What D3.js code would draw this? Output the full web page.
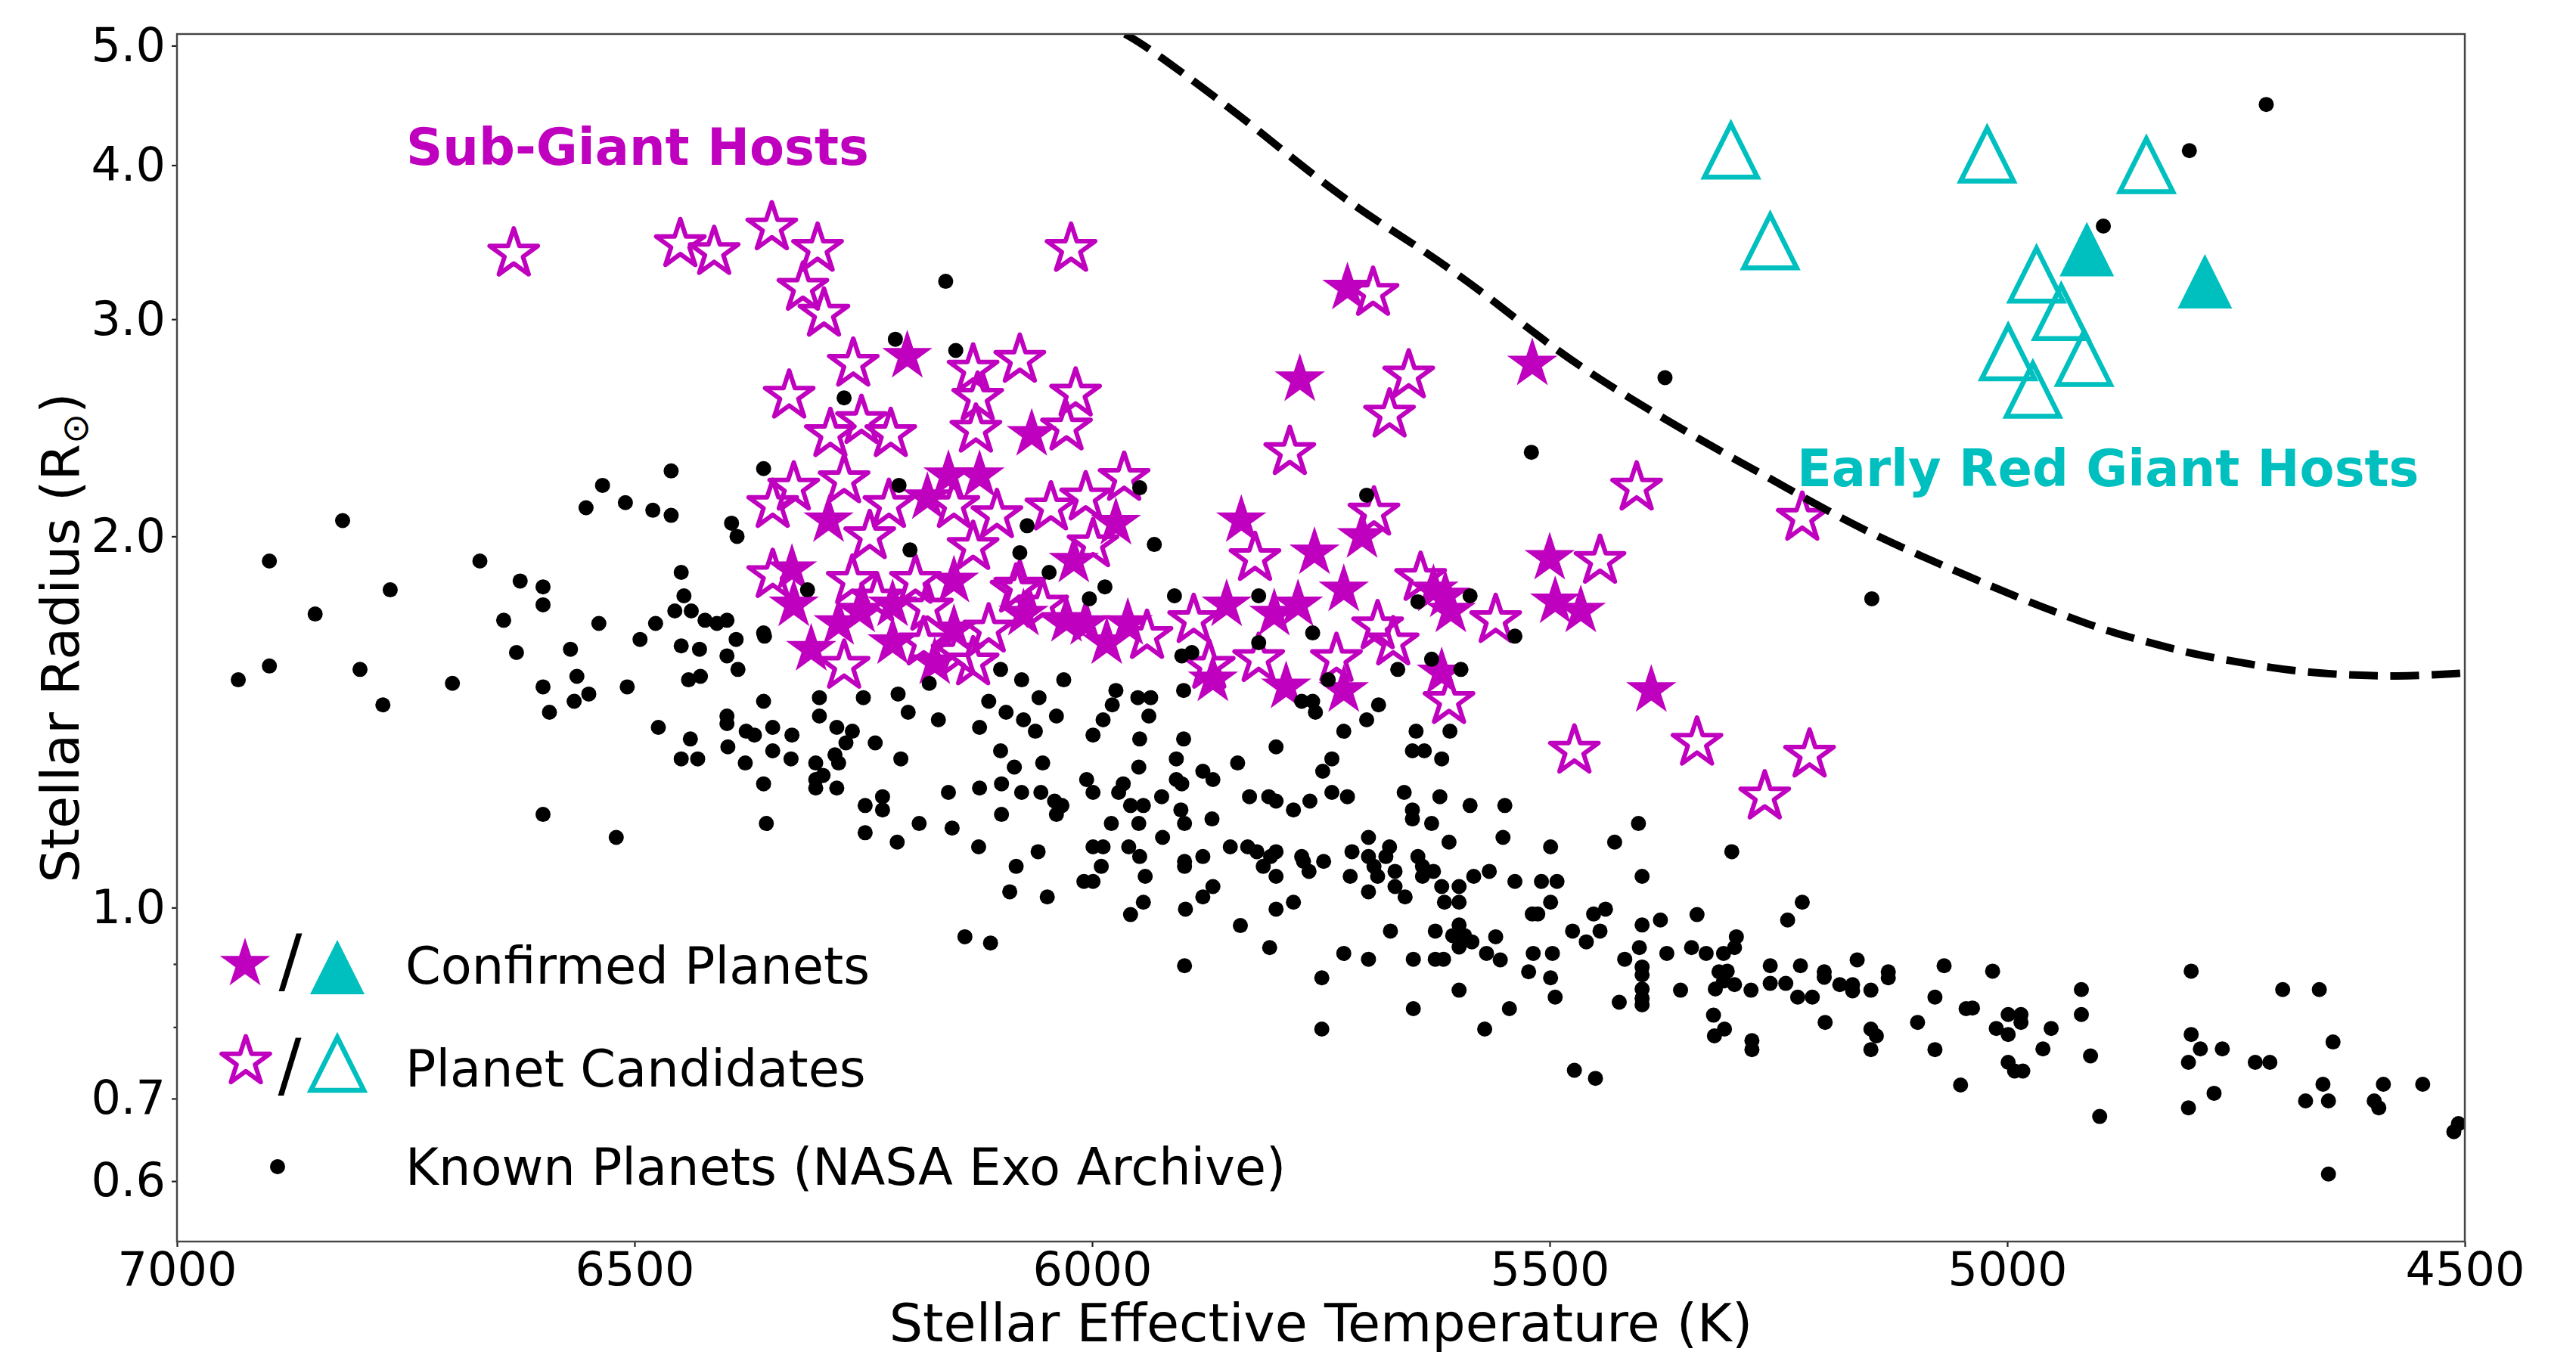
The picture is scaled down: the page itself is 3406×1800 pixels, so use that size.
<!DOCTYPE html>
<html><head><meta charset="utf-8">
<script src="https://cdn.jsdelivr.net/npm/d3@7"></script>
<style>body{margin:0;background:#fff;} svg{display:block;} text{font-family:"DejaVu Sans";}</style>
</head><body>
<svg id="chart" width="3406" height="1800"></svg>
<script>
// ---------------- DATA (Teff [K], stellar radius [R_sun]) ----------------
const xTicks = [7000, 6500, 6000, 5500, 5000, 4500];
const yTicks = [0.6, 0.7, 1.0, 2.0, 3.0, 4.0, 5.0];
const yMinorTicks = [0.8, 0.9];

const legendLabels = ["Confirmed Planets", "Planet Candidates", "Known Planets (NASA Exo Archive)"];
const regionLabels = ["Sub-Giant Hosts", "Early Red Giant Hosts"];

// Known planets (NASA Exoplanet Archive)
const knownPlanets = [
[6460,2.26],[6535,2.20],[6553,2.11],[6510,2.13],[6480,2.10],[6460,2.08],[6394,2.05],[6388,2.00],[6819,2.06],[6899,1.91],
[6669,1.91],[6767,1.81],[6849,1.73],[6625,1.84],[6600,1.82],[6600,1.76],[6643,1.71],[6539,1.70],[6449,1.87],[6446,1.79],
[6456,1.74],[6438,1.74],[6423,1.71],[6410,1.70],[6399,1.71],[6477,1.70],[6494,1.65],[6358,1.66],[6389,1.65],[6570,1.62],
[6629,1.61],[6449,1.63],[6429,1.62],[6399,1.60],[6387,1.56],[6899,1.57],[6933,1.53],[6800,1.56],[6699,1.52],[6775,1.46],
[6563,1.54],[6600,1.51],[6550,1.49],[6566,1.47],[6593,1.44],[6508,1.51],[6441,1.53],[6428,1.54],[6399,1.43],[6399,1.41],
[6378,1.39],[6369,1.38],[6474,1.40],[6439,1.37],[6449,1.32],[6431,1.32],[6398,1.35],[6379,1.31],[6600,1.19],[6520,1.14],
[6160,3.22],[6215,2.89],[6149,2.83],[6271,2.59],[6359,2.27],[6211,2.20],[5948,2.19],[6071,2.04],[5932,1.97],[6199,1.95],
[6079,1.94],[6047,1.87],[5986,1.82],[6003,1.78],[5910,1.79],[5818,1.79],[5759,1.67],[5818,1.64],[6311,1.81],[6359,1.67],
[5759,1.47],[5742,1.53],[6359,1.47],[6298,1.48],[6250,1.48],[6212,1.49],[6178,1.52],[6201,1.44],[6298,1.43],[6349,1.40],
[6328,1.38],[6279,1.40],[6262,1.39],[6349,1.34],[6281,1.33],[6269,1.36],[6237,1.36],[6168,1.42],[6100,1.56],[6077,1.53],
[6113,1.47],[6094,1.44],[6075,1.42],[6058,1.48],[6039,1.43],[6062,1.39],[6031,1.53],[6100,1.34],[6123,1.40],[5999,1.38],
[5988,1.42],[5974,1.50],[5978,1.46],[5950,1.48],[5936,1.48],[5938,1.43],[5948,1.37],[5900,1.37],[5902,1.60],[5891,1.61],
[5900,1.50],[5799,1.35],[5771,1.47],[5756,1.44],[5725,1.39],
[6329,1.32],[6302,1.31],[6277,1.31],[6209,1.32],[6359,1.26],[6302,1.27],[6294,1.28],[6302,1.25],[6279,1.25],[6356,1.17],
[6248,1.21],[6229,1.23],[6229,1.20],[6248,1.15],[6213,1.13],[6189,1.17],[6157,1.24],[6153,1.16],[6123,1.25],[6099,1.26],
[6099,1.19],[6085,1.30],[6054,1.31],[6077,1.24],[6056,1.24],[6041,1.22],[6033,1.21],[6039,1.19],[6124,1.12],[6059,1.11],
[6083,1.08],[6090,1.03],[6049,1.02],[6139,0.947],[6111,0.936],[6006,1.27],[5999,1.24],[5971,1.24],[5966,1.26],[5949,1.30],
[5958,1.21],[5944,1.21],[5979,1.17],[5949,1.17],[5999,1.12],[5988,1.12],[5990,1.08],[6009,1.05],[5999,1.05],[5960,1.12],
[5948,1.10],[5942,1.06],[5923,1.14],[5924,1.23],[5908,1.32],[5908,1.27],[5902,1.26],[5903,1.20],[5899,1.17],[5869,1.18],
[5879,1.29],[5868,1.27],[5841,1.31],[5899,1.09],[5899,1.08],[5879,1.10],[5868,1.04],[5879,1.02],[5898,0.997],[5944,1.01],
[5958,0.987],[5849,1.12],[5830,1.12],[5820,1.11],[5799,1.11],[5805,1.10],[5813,1.08],[5799,1.06],[5771,1.10],[5769,1.09],
[5763,1.07],[5747,1.09],[5716,1.11],[5718,1.06],[5828,1.23],[5807,1.23],[5799,1.22],[5780,1.20],[5762,1.22],[5738,1.24],
[5721,1.23],[5748,1.29],[5738,1.32],[5799,0.997],[5780,1.01],[5838,0.967],[5806,0.928],[5899,0.897],[5725,0.918],[5749,0.877],
[5749,0.797],
[5374,2.69],[5520,2.34],[5148,1.78],[5700,2.16],[5644,1.77],[5587,1.79],[5538,1.66],[5629,1.59],[5597,1.56],[5666,1.56],
[5687,1.46],[5700,1.42],[5646,1.39],[5609,1.39],[5650,1.34],[5637,1.34],
[5618,1.32],[5659,1.24],[5620,1.23],[5587,1.21],[5549,1.21],[5650,1.20],[5650,1.18],[5629,1.17],[5698,1.14],[5610,1.13],
[5551,1.14],[5499,1.12],[5403,1.17],[5429,1.13],[5301,1.11],[5399,1.06],[5675,1.12],[5698,1.10],[5679,1.10],[5692,1.08],
[5688,1.06],[5669,1.07],[5644,1.10],[5639,1.08],[5639,1.06],[5627,1.07],[5698,1.03],[5669,1.04],[5658,1.02],[5618,1.04],
[5615,1.01],[5599,1.04],[5599,1.01],[5583,1.06],[5566,1.07],[5538,1.05],[5509,1.05],[5492,1.05],[5499,1.01],[5519,0.988],
[5513,0.988],[5452,0.988],[5439,0.997],[5475,0.957],[5460,0.938],[5445,0.957],[5674,0.957],[5625,0.957],[5599,0.968],[5606,0.949],
[5593,0.949],[5585,0.938],[5599,0.929],[5559,0.947],[5698,0.908],[5649,0.908],[5625,0.908],[5616,0.908],[5569,0.918],[5554,0.907],
[5518,0.918],[5497,0.918],[5523,0.887],[5499,0.877],[5494,0.846],[5599,0.857],[5649,0.828],[5544,0.828],[5571,0.797],[5473,0.738],
[5450,0.727],[5399,0.968],[5379,0.977],[5402,0.928],[5418,0.908],[5399,0.895],[5399,0.882],[5372,0.918],[5399,0.859],[5399,0.844],
[5399,0.834],[5424,0.838],[5357,0.857],[5345,0.928],[5339,0.987],[5329,0.918],[5310,0.918],[5296,0.947],[5298,0.928],[5315,0.887],
[5306,0.888],[5319,0.859],[5298,0.866],[5310,0.872],[5280,0.857],[5321,0.818],[5309,0.797],[5320,0.787],[5279,0.780],[5279,0.767],
[5259,0.897],[5259,0.868],[5242,0.868],[5226,0.897],[5229,0.846],[5213,0.846],[5240,0.977],[5224,1.01],[5200,0.887],[5200,0.878],
[5183,0.866],[5169,0.866],[5169,0.856],[5164,0.907],[5149,0.857],[5130,0.887],[5130,0.877],[5069,0.897],[5079,0.846],[5199,0.807],
[5149,0.797],[5143,0.787],[5149,0.767],[5098,0.807],[5079,0.767],[5051,0.718],[5045,0.828],
[5016,0.888],[5038,0.829],[4999,0.819],[4985,0.819],[4985,0.807],[5012,0.798],[4999,0.789],[4952,0.798],[4961,0.768],[4919,0.858],
[4919,0.819],[4909,0.758],[4999,0.749],[4992,0.737],[4983,0.737],[4899,0.677],[4799,0.888],[4799,0.789],[4789,0.768],[4765,0.768],
[4802,0.749],[4774,0.707],[4802,0.688],[4729,0.749],[4713,0.749],[4699,0.858],[4659,0.858],[4644,0.778],[4655,0.719],[4649,0.697],
[4674,0.697],[4649,0.608],[4599,0.697],[4594,0.688],[4589,0.719],[4546,0.719],[4512,0.658],[4507,0.668],
[4801,4.11],[4717,4.48],[4895,3.57]
];

// Sub-giant hosts: confirmed planets (filled stars)
const confirmedSubGiants = [
[6202,2.80],[6066,2.42],[5721,3.18],[5773,2.68],[6288,2.06],[6157,2.24],[6123,2.24],[6180,2.15],[5974,2.05],[5837,2.06],
[5757,1.94],[6328,1.88],[6151,1.84],[6020,1.91],[5853,1.76],[5801,1.73],[5775,1.76],[5725,1.81],[6326,1.76],[6307,1.62],
[6277,1.70],[6218,1.76],[6218,1.64],[6151,1.68],[6075,1.73],[6028,1.71],[6007,1.70],[5984,1.64],[5961,1.70],[5868,1.53],
[5788,1.51],[5725,1.50],[6254,1.74],[6172,1.58],[5705,2.00],[5519,2.76],[5500,1.92],[5494,1.77],[5466,1.74],[5614,1.79],
[5608,1.74],[5627,1.81],[5618,1.55],[5389,1.50]
];

// Sub-giant hosts: planet candidates (open stars)
const candidateSubGiants = [
[6632,3.39],[6450,3.45],[6413,3.40],[6350,3.56],[6300,3.42],[6316,3.18],[6293,3.03],[6023,3.42],[6261,2.76],[6331,2.60],
[6252,2.48],[6286,2.42],[6220,2.42],[6130,2.73],[6079,2.78],[6125,2.59],[6127,2.44],[6018,2.61],[6028,2.45],[5784,2.34],
[5693,3.15],[6326,2.19],[6349,2.12],[6271,2.22],[6222,2.12],[6151,2.12],[6104,2.08],[6045,2.11],[6007,2.15],[5965,2.23],
[5822,1.92],[6349,1.86],[6262,1.84],[6193,1.84],[5999,1.97],[6079,1.82],[5889,1.71],[6271,1.57],[6235,1.78],[6184,1.64],
[6146,1.61],[6113,1.68],[6180,1.75],[6083,1.81],[6054,1.76],[5940,1.66],[5872,1.57],[5818,1.59],[5733,1.59],[6243,2.00],
[6130,1.96],[6130,1.58],[5654,2.70],[5675,2.51],[5405,2.19],[5224,2.07],[5692,2.09],[5445,1.91],[5641,1.85],[5559,1.71],
[5671,1.64],[5688,1.69],[5610,1.47],[5473,1.34],[5339,1.36],[5216,1.33],[5265,1.23]
];

// Early red giant hosts
const confirmedRedGiants = [[4913,3.42],[4784,3.22]];
const candidateRedGiants = [[5302,4.11],[5259,3.47],[5022,4.08],[4848,4.00],[4968,3.26],[4941,3.04],[4999,2.82],[4916,2.79],[4972,2.63]];

// Sub-giant / red-giant dividing curve (dashed)
const boundaryCurve = [
[5964,5.11],[5936,4.97],[5828,4.33],[5792,4.11],[5711,3.69],[5658,3.49],[5578,3.18],[5494,2.83],[5410,2.58],[5325,2.37],
[5241,2.19],[5157,2.02],[5053,1.87],[4985,1.78],[4937,1.725],[4892,1.677],[4848,1.643],[4804,1.61],[4760,1.587],[4712,1.565],
[4667,1.55],[4619,1.543],[4575,1.54],[4527,1.545],[4505,1.549]
];

// ---------------- DRAWING ----------------
const MAG = "#bf00bf", CYAN = "#00bfbf";
const svg = d3.select("#chart");
const L = 234, R = 3259, T = 45, B = 1642;
const x = d3.scaleLinear().domain([7000, 4500]).range([L, R]);
const y = d3.scaleLog().domain([0.536, 5.11]).range([B, T]);

svg.append("rect").attr("width", 3406).attr("height", 1800).attr("fill", "#fff");
svg.append("clipPath").attr("id", "plotclip").append("rect")
  .attr("x", L).attr("y", T).attr("width", R - L).attr("height", B - T);

function starPath(ro) {
  const ri = ro * 0.381966, pts = [];
  for (let k = 0; k < 10; k++) {
    const a = -Math.PI / 2 + k * Math.PI / 5, r = k % 2 ? ri : ro;
    pts.push([r * Math.cos(a), r * Math.sin(a)]);
  }
  return "M" + pts.map(p => p[0].toFixed(2) + "," + p[1].toFixed(2)).join("L") + "Z";
}
function triPath(h) { return `M0,${-h}L${h},${h}L${-h},${h}Z`; }

const g = svg.append("g").attr("clip-path", "url(#plotclip)");

g.append("g").selectAll("path").data(confirmedSubGiants).join("path")
  .attr("d", starPath(35)).attr("fill", MAG)
  .attr("transform", d => `translate(${x(d[0])},${y(d[1])})`);
g.append("g").selectAll("path").data(candidateSubGiants).join("path")
  .attr("d", starPath(33.5)).attr("fill", "none").attr("stroke", MAG).attr("stroke-width", 6)
  .attr("stroke-linejoin", "round")
  .attr("transform", d => `translate(${x(d[0])},${y(d[1])})`);
g.append("g").selectAll("path").data(confirmedRedGiants).join("path")
  .attr("d", triPath(36)).attr("fill", CYAN)
  .attr("transform", d => `translate(${x(d[0])},${y(d[1])})`);
g.append("g").selectAll("path").data(candidateRedGiants).join("path")
  .attr("d", triPath(35)).attr("fill", "none").attr("stroke", CYAN).attr("stroke-width", 6.5)
  .attr("stroke-linejoin", "miter")
  .attr("transform", d => `translate(${x(d[0])},${y(d[1])})`);

g.append("path").datum(boundaryCurve)
  .attr("d", d3.line().x(d => x(d[0])).y(d => y(d[1])).curve(d3.curveBasis))
  .attr("fill", "none").attr("stroke", "#000").attr("stroke-width", 10)
  .attr("stroke-dasharray", "38,16.5");

g.append("g").selectAll("circle").data(knownPlanets).join("circle")
  .attr("cx", d => x(d[0])).attr("cy", d => y(d[1])).attr("r", 10).attr("fill", "#000");

// axes
const xAxis = svg.append("g").attr("transform", `translate(0,${B})`)
  .call(d3.axisBottom(x).tickValues(xTicks).tickFormat(d3.format("d")).tickSize(7).tickPadding(7));
const yAxis = svg.append("g").attr("transform", `translate(${L},0)`)
  .call(d3.axisLeft(y).tickValues(yTicks).tickFormat(d3.format(".1f")).tickSize(7).tickPadding(8));
const yMinor = svg.append("g").attr("transform", `translate(${L},0)`)
  .call(d3.axisLeft(y).tickValues(yMinorTicks).tickFormat("").tickSize(4.5));
[xAxis, yAxis, yMinor].forEach(a => {
  a.select(".domain").remove();
  a.selectAll(".tick line").attr("stroke", "#222").attr("stroke-width", 2.2);
  a.selectAll(".tick text").attr("font-family", "DejaVu Sans").attr("font-size", 62).attr("fill", "#000");
});
svg.append("rect").attr("x", L).attr("y", T).attr("width", R - L).attr("height", B - T)
  .attr("fill", "none").attr("stroke", "#444").attr("stroke-width", 2.4);

svg.append("text").attr("x", (L + R) / 2).attr("y", 1774).attr("text-anchor", "middle")
  .attr("font-size", 70).text("Stellar Effective Temperature (K)");
const yl = svg.append("text").attr("transform", `translate(104,${(T + B) / 2}) rotate(-90)`)
  .attr("text-anchor", "middle").attr("font-size", 70);
yl.append("tspan").text("Stellar Radius (R");
yl.append("tspan").attr("font-size", 48).attr("dy", 12).text("\u2299");
yl.append("tspan").attr("dy", -12).text(")");

// region labels
svg.append("text").attr("x", 537).attr("y", 218).attr("font-size", 67).attr("font-weight", "bold")
  .attr("fill", MAG).text(regionLabels[0]);
svg.append("text").attr("x", 2376).attr("y", 643).attr("font-size", 67).attr("font-weight", "bold")
  .attr("fill", CYAN).text(regionLabels[1]);

// legend
const lg = svg.append("g");
lg.append("path").attr("d", starPath(35)).attr("fill", MAG).attr("transform", "translate(324,1275)");
lg.append("text").attr("x", 384).attr("y", 1302).attr("font-size", 92).attr("text-anchor", "middle").text("/");
lg.append("path").attr("d", triPath(36)).attr("fill", CYAN).attr("transform", "translate(446,1279)");
lg.append("text").attr("x", 536).attr("y", 1301).attr("font-size", 67).text(legendLabels[0]);

lg.append("path").attr("d", starPath(33.5)).attr("fill", "none").attr("stroke", MAG).attr("stroke-width", 6)
  .attr("stroke-linejoin", "round").attr("transform", "translate(325,1404)");
lg.append("text").attr("x", 383).attr("y", 1440).attr("font-size", 92).attr("text-anchor", "middle").text("/");
lg.append("path").attr("d", triPath(35)).attr("fill", "none").attr("stroke", CYAN).attr("stroke-width", 6.5)
  .attr("transform", "translate(446,1407)");
lg.append("text").attr("x", 536).attr("y", 1437).attr("font-size", 67).text(legendLabels[1]);

lg.append("circle").attr("cx", 367).attr("cy", 1543).attr("r", 10).attr("fill", "#000");
lg.append("text").attr("x", 536).attr("y", 1567).attr("font-size", 67).text(legendLabels[2]);
</script>
</body></html>
